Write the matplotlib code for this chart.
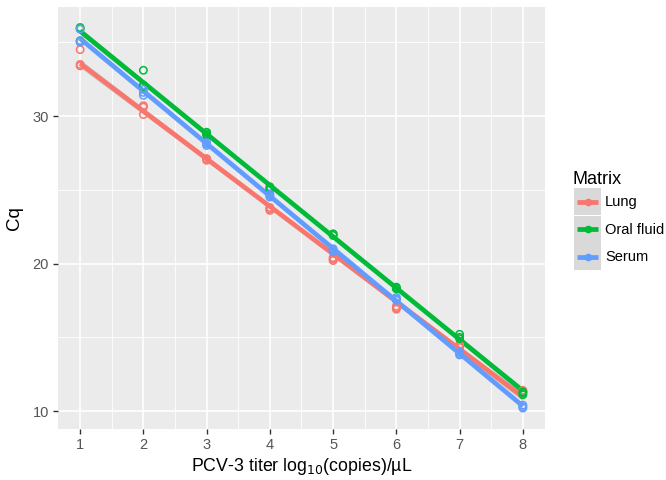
import numpy as np
import matplotlib
matplotlib.use("Agg")
import matplotlib.pyplot as plt

plt.rcParams['font.family'] = ['Liberation Sans', 'DejaVu Sans']

titer = [1, 2, 3, 4, 5, 6, 7, 8]
matrices = ["Lung", "Oral fluid", "Serum"]
colors = ["#F8766D", "#00BA38", "#619CFF"]

# three replicates per titer
lung = [[33.4, 33.5, 34.5], [30.7, 30.1, 30.6], [27.1, 27.0, 27.1], [23.7, 23.8, 23.6],
        [20.4, 20.2, 20.3], [17.0, 16.9, 17.1], [14.5, 14.3, 14.4], [11.4, 11.3, 11.3]]
oral = [[35.9, 35.1, 36.0], [33.1, 32.0, 32.1], [28.9, 28.7, 28.8], [25.2, 25.1, 25.0],
        [22.0, 21.9, 22.0], [18.4, 18.3, 18.3], [15.2, 14.9, 15.0], [11.2, 11.3, 11.1]]
serum = [[35.9, 35.0, 35.1], [31.4, 31.8, 31.6], [28.0, 28.2, 28.1], [24.6, 24.5, 24.7],
         [21.0, 20.9, 20.8], [17.6, 17.5, 17.7], [13.9, 14.0, 13.8], [10.3, 10.2, 10.4]]
series = [lung, oral, serum]

fig = plt.figure(figsize=(6.66, 4.8), dpi=100)
ax = fig.add_axes([0.0871, 0.10625, 0.7312, 0.87915])
ax.set_facecolor("#EBEBEB")

for name, col, reps in zip(matrices, colors, series):
    x = np.repeat(titer, 3).astype(float)
    y = np.array(reps, dtype=float).ravel()
    b, a = np.polyfit(x, y, 1)
    xs = np.linspace(1, 8, 80)
    ys = a + b * xs
    n = len(x)
    resid = y - (a + b * x)
    s = np.sqrt(np.sum(resid ** 2) / (n - 2))
    sxx = np.sum((x - x.mean()) ** 2)
    se = s * np.sqrt(1 / n + (xs - x.mean()) ** 2 / sxx)
    t = 2.074
    ax.fill_between(xs, ys - t * se, ys + t * se, color="#999999", alpha=0.4, lw=0, zorder=2)
    ax.plot(xs, ys, color=col, lw=3.4, zorder=3, solid_capstyle="butt")
    ax.scatter(x, y, s=28, facecolors="none", edgecolors=col, linewidths=1.1, zorder=4)

ax.set_xlim(0.65, 8.35)
ax.set_ylim(8.78, 37.39)
ax.set_xticks(titer)
ax.set_yticks([10, 20, 30])
ax.set_xticks(np.arange(1.5, 8, 1), minor=True)
ax.set_yticks([15, 25, 35], minor=True)
ax.grid(which="major", color="white", lw=1.2)
ax.grid(which="minor", color="white", lw=0.6)
ax.set_axisbelow(True)
for sp in ax.spines.values():
    sp.set_visible(False)
ax.tick_params(which="major", length=3.5, width=1, color="#333333", labelcolor="#555555",
               labelsize=10.5, pad=3)
ax.tick_params(which="minor", length=0)

ax.set_xlabel("PCV-3 titer log$_{10}$(copies)/\u00b5L", fontsize=12.8, labelpad=3)
ax.set_ylabel("Cq", fontsize=13.5, labelpad=7)

# legend drawn by hand, ggplot style
fig.text(572 / 666, 1 - 180 / 480, "Matrix", fontsize=13, va="center", ha="left")
for i, (name, col) in enumerate(zip(matrices, colors)):
    top = 188 + i * 27.5
    kax = fig.add_axes([574 / 666, 1 - (top + 27) / 480, 27 / 666, 27 / 480])
    kax.set_facecolor("#D9D9D9")
    kax.set_xlim(0, 1)
    kax.set_ylim(0, 1)
    kax.plot([0.1, 0.9], [0.5, 0.5], color=col, lw=3.4, solid_capstyle="butt")
    kax.plot([0.5], [0.5], "o", color=col, ms=4.5)
    kax.set_xticks([])
    kax.set_yticks([])
    for sp in kax.spines.values():
        sp.set_visible(False)
    fig.text(605 / 666, 1 - (top + 14) / 480, name, fontsize=10.5, va="center", ha="left")

fig.savefig("out.png", dpi=100)
